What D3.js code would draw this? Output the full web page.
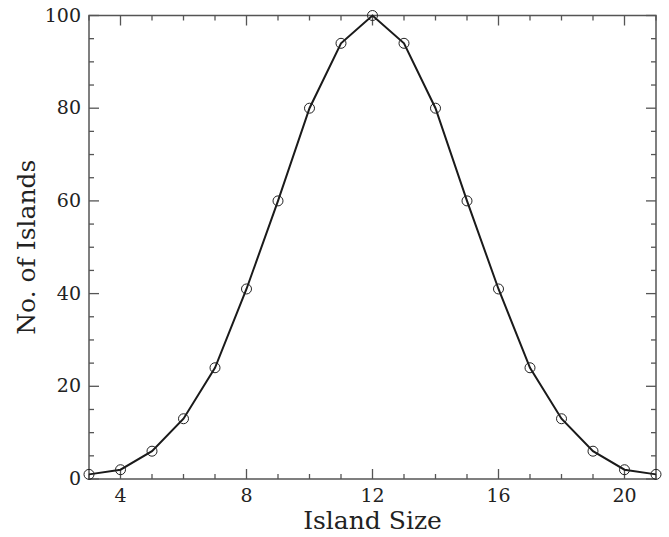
<!DOCTYPE html>
<html>
<head>
<meta charset="utf-8">
<script src="https://cdn.jsdelivr.net/npm/d3@7"></script>
<style>
  body { margin: 0; background: #fff; }
  text { font-family: "DejaVu Serif", serif; fill: #222; }
</style>
</head>
<body>
<svg id="chart"></svg>
<script>
// island size vs count
var sizes = [3, 4, 5, 6, 7, 8, 9, 10, 11, 12, 13, 14, 15, 16, 17, 18, 19, 20, 21];
var counts = [1, 2, 6, 13, 24, 41, 60, 80, 94, 100, 94, 80, 60, 41, 24, 13, 6, 2, 1];
var xTicks = [4, 8, 12, 16, 20];
var yTicks = [0, 20, 40, 60, 80, 100];

var screen = {width: 669, height: 537};
var margins = {top: 15.5, bottom: 58, left: 89, right: 13};

var graph = {
    width: screen.width - margins.left - margins.right,
    height: screen.height - margins.top - margins.bottom
};

var xScale = d3.scaleLinear().domain([3, 21]).range([0, graph.width]);
var yScale = d3.scaleLinear().domain([0, 100]).range([graph.height, 0]);

var svg = d3.select("#chart")
    .attr("width", screen.width)
    .attr("height", screen.height);

var g = svg.append("g")
    .attr("transform", "translate(" + margins.left + "," + margins.top + ")");

// minor ticks
var xMinor = d3.range(3, 22, 1);
var yMinor = d3.range(0, 101, 5);

var axisColor = "#555";

// frame
g.append("rect")
    .attr("width", graph.width)
    .attr("height", graph.height)
    .attr("fill", "none")
    .attr("stroke", axisColor)
    .attr("stroke-width", 1.5);

var tickLen = function(v, majors) { return majors.indexOf(v) >= 0 ? 10 : 5; };

// x ticks, bottom and top, pointing inward
xMinor.forEach(function(v) {
    var len = tickLen(v, xTicks);
    g.append("line")
        .attr("x1", xScale(v)).attr("x2", xScale(v))
        .attr("y1", graph.height).attr("y2", graph.height - len)
        .attr("stroke", axisColor).attr("stroke-width", 1.3);
    g.append("line")
        .attr("x1", xScale(v)).attr("x2", xScale(v))
        .attr("y1", 0).attr("y2", len)
        .attr("stroke", axisColor).attr("stroke-width", 1.3);
});

// y ticks, left and right
yMinor.forEach(function(v) {
    var len = tickLen(v, yTicks);
    g.append("line")
        .attr("x1", 0).attr("x2", len)
        .attr("y1", yScale(v)).attr("y2", yScale(v))
        .attr("stroke", axisColor).attr("stroke-width", 1.3);
    g.append("line")
        .attr("x1", graph.width).attr("x2", graph.width - len)
        .attr("y1", yScale(v)).attr("y2", yScale(v))
        .attr("stroke", axisColor).attr("stroke-width", 1.3);
});

// tick labels
g.selectAll(".xlab")
    .data(xTicks)
    .enter()
    .append("text")
    .attr("x", function(d) { return xScale(d); })
    .attr("y", graph.height + 23)
    .attr("text-anchor", "middle")
    .style("font-size", "19px")
    .text(function(d) { return d; });

g.selectAll(".ylab")
    .data(yTicks)
    .enter()
    .append("text")
    .attr("x", -8)
    .attr("y", function(d) { return yScale(d) + 6; })
    .attr("text-anchor", "end")
    .style("font-size", "19px")
    .text(function(d) { return d; });

// axis titles
svg.append("text")
    .attr("x", margins.left + graph.width / 2)
    .attr("y", 529)
    .attr("text-anchor", "middle")
    .style("font-size", "25px")
    .text("Island Size");

svg.append("text")
    .attr("transform", "translate(35," + (margins.top + graph.height / 2) + ") rotate(-90)")
    .attr("text-anchor", "middle")
    .style("font-size", "25px")
    .text("No. of Islands");

// line + markers
var points = sizes.map(function(s, i) { return {x: s, y: counts[i]}; });

var line = d3.line()
    .x(function(d) { return xScale(d.x); })
    .y(function(d) { return yScale(d.y); });

g.append("path")
    .datum(points)
    .attr("d", line)
    .attr("fill", "none")
    .attr("stroke", "#1a1a1a")
    .attr("stroke-width", 2);

g.selectAll("circle")
    .data(points)
    .enter()
    .append("circle")
    .attr("cx", function(d) { return xScale(d.x); })
    .attr("cy", function(d) { return yScale(d.y); })
    .attr("r", 5)
    .attr("fill", "none")
    .attr("stroke", "#222")
    .attr("stroke-width", 1);
</script>
</body>
</html>
